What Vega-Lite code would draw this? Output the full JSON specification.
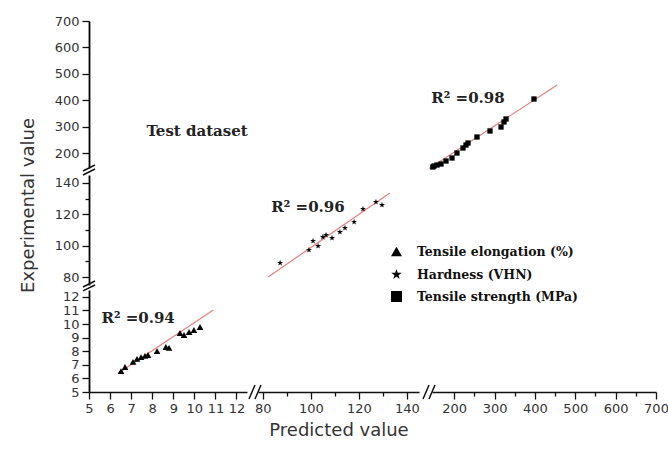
{
  "$schema": "https://vega.github.io/schema/vega-lite/v6.json",
  "width": 579,
  "height": 392,
  "autosize": {"type": "none"},
  "padding": {"left": 89, "top": 0, "right": 0, "bottom": 58},
  "background": "white",
  "config": {
    "view": {"stroke": null},
    "axis": {
      "grid": false,
      "domain": true,
      "domainColor": "#111",
      "domainWidth": 1.6,
      "tickColor": "#111",
      "tickWidth": 1.3,
      "labelFont": "DejaVu Sans",
      "labelFontSize": 13,
      "labelColor": "#333",
      "labelFlush": false,
      "labelOverlap": false,
      "labelBound": false,
      "titleFont": "DejaVu Sans",
      "titleFontSize": 18,
      "titleFontWeight": "normal",
      "titleColor": "#333"
    },
    "axisLeft": {"domain": true, "domainColor": "#000", "domainWidth": 1.8},
    "axisBottom": {"domain": true, "domainColor": "#111", "domainWidth": 1.6}
  },
  "datasets": {
    "elong": [
      {"x": 6.52, "y": 6.54, "series": "Tensile elongation (%)"},
      {"x": 6.71, "y": 6.84, "series": "Tensile elongation (%)"},
      {"x": 7.09, "y": 7.21, "series": "Tensile elongation (%)"},
      {"x": 7.28, "y": 7.43, "series": "Tensile elongation (%)"},
      {"x": 7.47, "y": 7.57, "series": "Tensile elongation (%)"},
      {"x": 7.66, "y": 7.65, "series": "Tensile elongation (%)"},
      {"x": 7.8, "y": 7.72, "series": "Tensile elongation (%)"},
      {"x": 8.23, "y": 8.01, "series": "Tensile elongation (%)"},
      {"x": 8.65, "y": 8.31, "series": "Tensile elongation (%)"},
      {"x": 8.8, "y": 8.24, "series": "Tensile elongation (%)"},
      {"x": 9.32, "y": 9.34, "series": "Tensile elongation (%)"},
      {"x": 9.51, "y": 9.19, "series": "Tensile elongation (%)"},
      {"x": 9.75, "y": 9.41, "series": "Tensile elongation (%)"},
      {"x": 9.98, "y": 9.56, "series": "Tensile elongation (%)"},
      {"x": 10.27, "y": 9.78, "series": "Tensile elongation (%)"}
    ],
    "elongFit": [{"x": 6.39, "y": 6.37}, {"x": 10.9, "y": 11.03}],
    "hard": [
      {"x": 87.2, "y": 89.0, "series": "Hardness (VHN)"},
      {"x": 99.2, "y": 97.3, "series": "Hardness (VHN)"},
      {"x": 100.9, "y": 103.0, "series": "Hardness (VHN)"},
      {"x": 103.0, "y": 99.8, "series": "Hardness (VHN)"},
      {"x": 105.0, "y": 105.5, "series": "Hardness (VHN)"},
      {"x": 106.3, "y": 106.8, "series": "Hardness (VHN)"},
      {"x": 108.8, "y": 104.9, "series": "Hardness (VHN)"},
      {"x": 112.1, "y": 108.7, "series": "Hardness (VHN)"},
      {"x": 114.2, "y": 111.3, "series": "Hardness (VHN)"},
      {"x": 118.0, "y": 115.1, "series": "Hardness (VHN)"},
      {"x": 121.7, "y": 123.4, "series": "Hardness (VHN)"},
      {"x": 127.1, "y": 127.8, "series": "Hardness (VHN)"},
      {"x": 129.6, "y": 125.9, "series": "Hardness (VHN)"}
    ],
    "hardFit": [{"x": 82.2, "y": 80.1}, {"x": 132.9, "y": 133.5}],
    "tens": [
      {"x": 147, "y": 148.8, "series": "Tensile strength (MPa)"},
      {"x": 150, "y": 152.6, "series": "Tensile strength (MPa)"},
      {"x": 157.4, "y": 156.3, "series": "Tensile strength (MPa)"},
      {"x": 167.3, "y": 160.1, "series": "Tensile strength (MPa)"},
      {"x": 179.7, "y": 171.4, "series": "Tensile strength (MPa)"},
      {"x": 194.6, "y": 182.8, "series": "Tensile strength (MPa)"},
      {"x": 206.9, "y": 201.6, "series": "Tensile strength (MPa)"},
      {"x": 221.8, "y": 220.5, "series": "Tensile strength (MPa)"},
      {"x": 229.2, "y": 231.8, "series": "Tensile strength (MPa)"},
      {"x": 234.2, "y": 239.4, "series": "Tensile strength (MPa)"},
      {"x": 256.5, "y": 262, "series": "Tensile strength (MPa)"},
      {"x": 288.7, "y": 284.7, "series": "Tensile strength (MPa)"},
      {"x": 316, "y": 299.8, "series": "Tensile strength (MPa)"},
      {"x": 323.4, "y": 318.7, "series": "Tensile strength (MPa)"},
      {"x": 328.4, "y": 330, "series": "Tensile strength (MPa)"},
      {"x": 397.7, "y": 405.5, "series": "Tensile strength (MPa)"}
    ],
    "tensFit": [{"x": 138, "y": 143}, {"x": 455, "y": 458}],
    "breaksLow": [
      {"x": 12.595, "y": 4.485, "x2": 12.88, "y2": 5.515},
      {"x": 12.88, "y": 4.485, "x2": 13.165, "y2": 5.515},
      {"x": 4.715, "y": 12.43, "x2": 5.285, "y2": 12.87},
      {"x": 4.715, "y": 12.72, "x2": 5.285, "y2": 13.16}
    ],
    "breaksYUp": [
      {"x": 4.715, "y": 118.6, "x2": 5.285, "y2": 141.2},
      {"x": 4.715, "y": 133.7, "x2": 5.285, "y2": 156.3}
    ],
    "breaksXUp": [
      {"x": 122.7, "y": 4.485, "x2": 137.6, "y2": 5.515},
      {"x": 137.6, "y": 4.485, "x2": 152.4, "y2": 5.515}
    ]
  },
  "layer": [
    {
      "layer": [
        {
          "data": {"name": "elongFit"},
          "mark": {"type": "line", "color": "#e57f7c", "strokeWidth": 1.2},
          "encoding": {
            "x": {
              "field": "x", "type": "quantitative",
              "scale": {"domain": [5, 12.5], "range": [0, 158], "nice": false, "zero": false},
              "axis": {
                "orient": "bottom", "title": null,
                "values": [5, 5.5, 6, 6.5, 7, 7.5, 8, 8.5, 9, 9.5, 10, 10.5, 11, 11.5, 12, 12.5],
                "labelExpr": "datum.value % 1 === 0 ? format(datum.value, 'd') : ''",
                "tickSize": {"condition": {"test": "datum.value % 1 === 0", "value": 7}, "value": 4},
                "labelPadding": 3
              }
            },
            "y": {
              "field": "y", "type": "quantitative",
              "scale": {"domain": [5, 12.5], "range": [392, 290], "nice": false, "zero": false},
              "axis": {
                "orient": "left", "title": null,
                "values": [5, 5.5, 6, 6.5, 7, 7.5, 8, 8.5, 9, 9.5, 10, 10.5, 11, 11.5, 12, 12.5],
                "labelExpr": "datum.value % 1 === 0 ? format(datum.value, 'd') : ''",
                "tickSize": {"condition": {"test": "datum.value % 1 === 0", "value": 7}, "value": 4},
                "labelPadding": 3
              }
            }
          }
        },
        {
          "data": {"name": "elong"},
          "mark": {"type": "point", "filled": true, "color": "black", "opacity": 1, "size": 45},
          "encoding": {
            "x": {"field": "x", "type": "quantitative"},
            "y": {"field": "y", "type": "quantitative"},
            "shape": {
              "field": "series", "type": "nominal",
              "scale": {
                "domain": ["Tensile elongation (%)", "Hardness (VHN)", "Tensile strength (MPa)"],
                "range": ["triangle-up", "M0,-1L0.2245,-0.309L0.9511,-0.309L0.3633,0.118L0.5878,0.809L0,0.382L-0.5878,0.809L-0.3633,0.118L-0.9511,-0.309L-0.2245,-0.309Z", "square"]
              },
              "legend": {
                "orient": "none", "legendX": 301, "legendY": 245, "title": null,
                "labelFont": "DejaVu Serif", "labelFontWeight": "bold", "labelFontSize": 12.5,
                "labelLimit": 400,
                "labelColor": "#111", "symbolSize": 120, "rowPadding": 6, "labelOffset": 14,
                "symbolFillColor": "black", "symbolStrokeColor": "black"
              }
            }
          }
        },
        {
          "data": {"values": [{"x": 7.33, "y": 10.44, "label": "R² =0.94"}]},
          "mark": {"type": "text", "font": "DejaVu Serif", "fontWeight": "bold", "fontSize": 15, "color": "#222"},
          "encoding": {
            "x": {"field": "x", "type": "quantitative"},
            "y": {"field": "y", "type": "quantitative"},
            "text": {"field": "label"}
          }
        },
        {
          "data": {"name": "breaksLow"},
          "mark": {"type": "rule", "color": "#111", "strokeWidth": 1.5},
          "encoding": {
            "x": {"field": "x", "type": "quantitative"},
            "y": {"field": "y", "type": "quantitative"},
            "x2": {"field": "x2"},
            "y2": {"field": "y2"}
          }
        }
      ]
    },
    {
      "layer": [
        {
          "data": {"name": "hardFit"},
          "mark": {"type": "line", "color": "#e57f7c", "strokeWidth": 1.2},
          "encoding": {
            "x": {
              "field": "x", "type": "quantitative",
              "scale": {"domain": [78, 145], "range": [169, 330], "nice": false, "zero": false},
              "axis": {
                "orient": "bottom", "title": "Predicted value", "titlePadding": 6,
                "values": [80, 90, 100, 110, 120, 130, 140],
                "labelExpr": "datum.value % 20 === 0 ? datum.label : ''",
                "tickSize": {"condition": {"test": "datum.value % 20 === 0", "value": 7}, "value": 4},
                "labelPadding": 3
              }
            },
            "y": {
              "field": "y", "type": "quantitative",
              "scale": {"domain": [75, 145], "range": [285, 175], "nice": false, "zero": false},
              "axis": {
                "orient": "left", "title": "Experimental value", "titlePadding": 17, "titleY": 205,
                "values": [80, 90, 100, 110, 120, 130, 140],
                "labelExpr": "datum.value % 20 === 0 ? datum.label : ''",
                "tickSize": {"condition": {"test": "datum.value % 20 === 0", "value": 7}, "value": 4},
                "labelPadding": 3
              }
            }
          }
        },
        {
          "data": {"name": "hard"},
          "mark": {"type": "point", "filled": true, "color": "black", "opacity": 1, "size": 40},
          "encoding": {
            "x": {"field": "x", "type": "quantitative"},
            "y": {"field": "y", "type": "quantitative"},
            "shape": {"field": "series", "type": "nominal"}
          }
        },
        {
          "data": {"values": [{"x": 98.8, "y": 124.6, "label": "R² =0.96"}]},
          "mark": {"type": "text", "font": "DejaVu Serif", "fontWeight": "bold", "fontSize": 15, "color": "#222"},
          "encoding": {
            "x": {"field": "x", "type": "quantitative"},
            "y": {"field": "y", "type": "quantitative"},
            "text": {"field": "label"}
          }
        }
      ]
    },
    {
      "layer": [
        {
          "data": {"name": "tensFit"},
          "mark": {"type": "line", "color": "#e57f7c", "strokeWidth": 1.2},
          "encoding": {
            "x": {
              "field": "x", "type": "quantitative",
              "scale": {"domain": [145, 700], "range": [343, 567], "nice": false, "zero": false},
              "axis": {
                "orient": "bottom", "title": null,
                "values": [200, 250, 300, 350, 400, 450, 500, 550, 600, 650, 700],
                "labelExpr": "datum.value % 100 === 0 ? datum.label : ''",
                "tickSize": {"condition": {"test": "datum.value % 100 === 0", "value": 7}, "value": 4},
                "labelPadding": 3
              }
            },
            "y": {
              "field": "y", "type": "quantitative",
              "scale": {"domain": [145, 700], "range": [168, 21], "nice": false, "zero": false},
              "axis": {
                "orient": "left", "title": null,
                "values": [200, 250, 300, 350, 400, 450, 500, 550, 600, 650, 700],
                "labelExpr": "datum.value % 100 === 0 ? datum.label : ''",
                "tickSize": {"condition": {"test": "datum.value % 100 === 0", "value": 7}, "value": 4},
                "labelPadding": 3
              }
            }
          }
        },
        {
          "data": {"name": "tens"},
          "mark": {"type": "point", "filled": true, "color": "black", "opacity": 1, "size": 28},
          "encoding": {
            "x": {"field": "x", "type": "quantitative"},
            "y": {"field": "y", "type": "quantitative"},
            "shape": {"field": "series", "type": "nominal"}
          }
        },
        {
          "data": {"values": [{"x": 234.2, "y": 409.3, "label": "R² =0.98"}]},
          "mark": {"type": "text", "font": "DejaVu Serif", "fontWeight": "bold", "fontSize": 15, "color": "#222"},
          "encoding": {
            "x": {"field": "x", "type": "quantitative"},
            "y": {"field": "y", "type": "quantitative"},
            "text": {"field": "label"}
          }
        }
      ]
    },
    {
      "layer": [
        {
          "data": {"values": [{"x": 10.13, "y": 284.7, "label": "Test dataset"}]},
          "mark": {"type": "text", "font": "DejaVu Serif", "fontWeight": "bold", "fontSize": 15, "color": "#222"},
          "encoding": {
            "x": {"field": "x", "type": "quantitative", "scale": {"domain": [5, 12.5], "range": [0, 158], "nice": false, "zero": false}, "axis": null},
            "y": {"field": "y", "type": "quantitative", "scale": {"domain": [145, 700], "range": [168, 21], "nice": false, "zero": false}, "axis": null},
            "text": {"field": "label"}
          }
        },
        {
          "data": {"name": "breaksYUp"},
          "mark": {"type": "rule", "color": "#111", "strokeWidth": 1.5},
          "encoding": {
            "x": {"field": "x", "type": "quantitative"},
            "y": {"field": "y", "type": "quantitative"},
            "x2": {"field": "x2"},
            "y2": {"field": "y2"}
          }
        }
      ]
    },
    {
      "layer": [
        {
          "data": {"name": "breaksXUp"},
          "mark": {"type": "rule", "color": "#111", "strokeWidth": 1.5},
          "encoding": {
            "x": {"field": "x", "type": "quantitative", "scale": {"domain": [145, 700], "range": [343, 567], "nice": false, "zero": false}, "axis": null},
            "y": {"field": "y", "type": "quantitative", "scale": {"domain": [5, 12.5], "range": [392, 290], "nice": false, "zero": false}, "axis": null},
            "x2": {"field": "x2"},
            "y2": {"field": "y2"}
          }
        }
      ]
    }
  ],
  "resolve": {"scale": {"x": "independent", "y": "independent"}}
}
